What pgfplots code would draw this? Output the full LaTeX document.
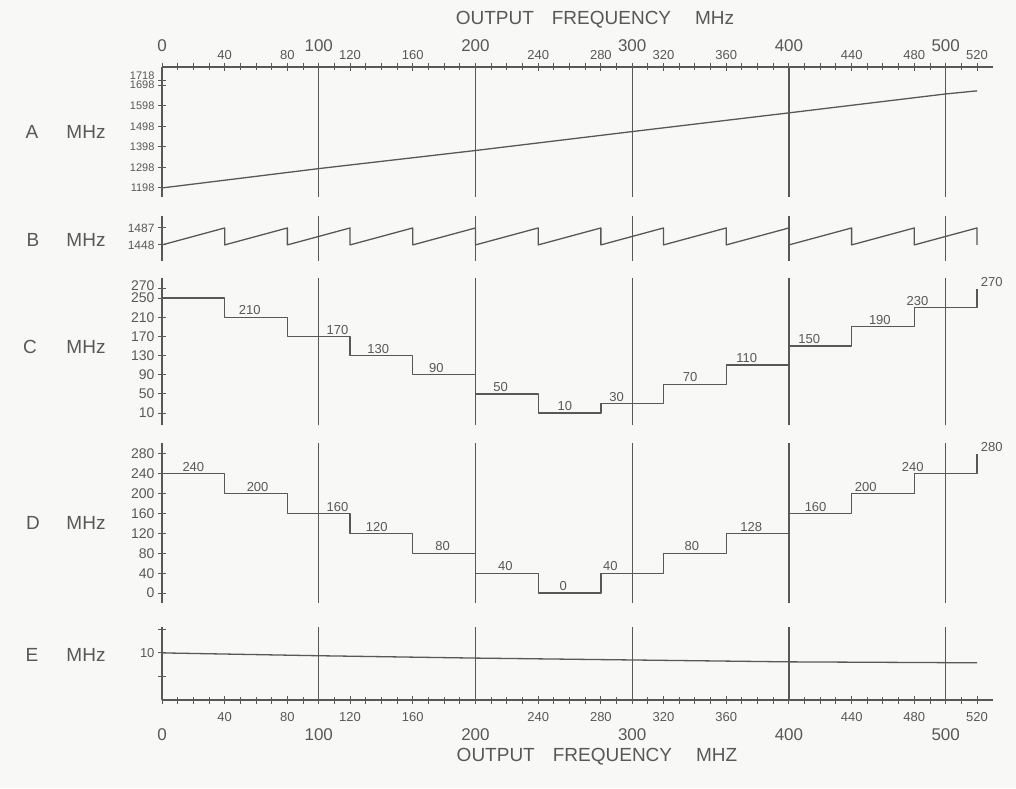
\documentclass[border=0pt]{standalone}
\usepackage{pgfplots}
\pgfplotsset{compat=1.18}
\usepackage{fontspec}
\setmainfont{Liberation Sans}

\definecolor{ink}{RGB}{88,88,88}
\definecolor{paper}{RGB}{248,248,246}
\newcommand{\fs}[1]{\fontsize{#1}{#1}\selectfont}

\pgfplotsset{
  base/.style={
    scale only axis, width=830.7pt, xmin=0, xmax=530, clip=false,
    axis line style={ink, line width=1.2pt},
    tick align=center, major tick length=8pt, minor tick length=7pt,
    tick style={ink, line width=1pt},
    yticklabel style={font=\fs{13}, text=ink},
    /pgf/number format/assume math mode=true,
    /pgf/number format/1000 sep={},
    major grid style={ink, line width=1.2pt},
  },
  mid/.style={
    base, axis y line*=left, axis x line*=bottom,
    x axis line style={draw=none},
    xtick={100,200,300,400,500}, xticklabels={}, xmajorgrids,
    xtick style={draw=none},
  },
  curve/.style={ink, line width=1.3pt, no marks, line join=round},
}
\tikzset{lab/.style={font=\fs{13}, text=ink, anchor=south, inner sep=2pt}}

\begin{document}
\begin{tikzpicture}
\fill[paper] (0,0) rectangle (1016pt,788pt);

% A
\begin{axis}[base, at={(162pt,591pt)}, height=130pt,
  ymin=1154, ymax=1786,
  axis y line*=left, axis x line*=top,
  xtick={40,80,120,160,240,280,320,360,440,480,520},
  minor xtick={0,10,...,520},
  xticklabel style={font=\fs{13}, text=ink},
  extra x ticks={0,100,200,300,400,500},
  extra x tick style={grid=major, xticklabel style={font=\fs{17}, yshift=8pt}},
  ytick={1198,1298,1398,1498,1598,1698},
  yticklabels={1198,1298,1398,1498,1598,\raisebox{-6pt}{1698}},
  extra y ticks={1718}, extra y tick style={yticklabel style={yshift=5pt}},
  yticklabel style={font=\fs{11}},
]
\addplot[curve] coordinates {(0,1198) (100,1292) (200,1380) (300,1472) (400,1563) (500,1655) (520,1670)};
\end{axis}

% B
\begin{axis}[mid, at={(162pt,527pt)}, height=45pt,
  ymin=1411, ymax=1514.5,
  ytick={1448,1487}, yticklabel style={font=\fs{12}},
]
\addplot[curve] coordinates {
  (0,1448) (40,1487) (40,1448) (80,1487) (80,1448) (120,1487) (120,1448)
  (160,1487) (160,1448) (200,1487) (200,1448) (240,1487) (240,1448)
  (280,1487) (280,1448) (320,1487) (320,1448) (360,1487) (360,1448)
  (400,1487) (400,1448) (440,1487) (440,1448) (480,1487) (480,1448)
  (520,1487) (520,1448)};
\end{axis}

% C
\begin{axis}[mid, at={(162pt,363pt)}, height=147pt,
  ymin=-15, ymax=292,
  ytick={10,50,90,130,170,210,250},
  extra y ticks={270}, extra y tick style={yticklabel style={yshift=3pt}},
  yticklabel style={font=\fs{14}},
]
\addplot[curve, const plot] coordinates {
  (0,250) (40,210) (80,170) (120,130) (160,90) (200,50) (240,10)
  (280,30) (320,70) (360,110) (400,150) (440,190) (480,230) (520,270)};
\node[lab] at (axis cs:56,210) {210};
\node[lab] at (axis cs:112,170) {170};
\node[lab] at (axis cs:138,130) {130};
\node[lab] at (axis cs:175,90) {90};
\node[lab] at (axis cs:216,50) {50};
\node[lab] at (axis cs:257,10) {10};
\node[lab] at (axis cs:290,30) {30};
\node[lab] at (axis cs:337,70) {70};
\node[lab] at (axis cs:373,110) {110};
\node[lab] at (axis cs:413,150) {150};
\node[lab] at (axis cs:458,190) {190};
\node[lab] at (axis cs:482,230) {230};
\node[lab, anchor=south west] at (axis cs:521,270) {270};
\end{axis}

% D
\begin{axis}[mid, at={(162pt,185pt)}, height=160pt,
  ymin=-20, ymax=302,
  ytick={0,40,80,120,160,200,240,280},
  yticklabel style={font=\fs{14}},
]
\addplot[curve, const plot] coordinates {
  (0,240) (40,200) (80,160) (120,120) (160,80) (200,40) (240,0)
  (280,40) (320,80) (360,120) (400,160) (440,200) (480,240) (520,280)};
\node[lab] at (axis cs:20,240) {240};
\node[lab] at (axis cs:61,200) {200};
\node[lab] at (axis cs:112,160) {160};
\node[lab] at (axis cs:137,120) {120};
\node[lab] at (axis cs:179,80) {80};
\node[lab] at (axis cs:219,40) {40};
\node[lab] at (axis cs:256,0) {0};
\node[lab] at (axis cs:286,40) {40};
\node[lab] at (axis cs:338,80) {80};
\node[lab] at (axis cs:376,120) {128};
\node[lab] at (axis cs:417,160) {160};
\node[lab] at (axis cs:449,200) {200};
\node[lab] at (axis cs:479,240) {240};
\node[lab, anchor=south west] at (axis cs:521,280) {280};
\end{axis}

% E
\begin{axis}[base, at={(162pt,88pt)}, height=73pt,
  ymin=0, ymax=15.5,
  axis y line*=left, axis x line*=bottom,
  xtick={40,80,120,160,240,280,320,360,440,480,520},
  minor xtick={0,10,...,520},
  xticklabel style={font=\fs{13}, text=ink, yshift=-5pt},
  extra x ticks={0,100,200,300,400,500},
  extra x tick style={grid=major, xticklabel style={font=\fs{17}, yshift=-16pt}},
  ytick={5,10,15}, yticklabels={,10,},
]
\addplot[curve] coordinates {(0,10) (100,9.4) (200,8.9) (300,8.5) (400,8.1) (520,7.9)};
\end{axis}

% row names and titles
\begin{scope}[every node/.style={font=\fs{19}, text=ink}]
\node at (32pt,656pt) {A};  \node at (86pt,656pt) {MHz};
\node at (33pt,548pt) {B};  \node at (86pt,548pt) {MHz};
\node at (30pt,441pt) {C};  \node at (86pt,441pt) {MHz};
\node at (33pt,265pt) {D};  \node at (86pt,265pt) {MHz};
\node at (32pt,133pt) {E};  \node at (86pt,133pt) {MHz};
\end{scope}
\node[font=\fs{19}, text=ink] at (595pt,768pt) {OUTPUT\hspace{18pt}FREQUENCY\hspace{24pt}MHz};
\node[font=\fs{19}, text=ink] at (597pt,31pt) {OUTPUT\hspace{18pt}FREQUENCY\hspace{24pt}MHZ};
\end{tikzpicture}
\end{document}
